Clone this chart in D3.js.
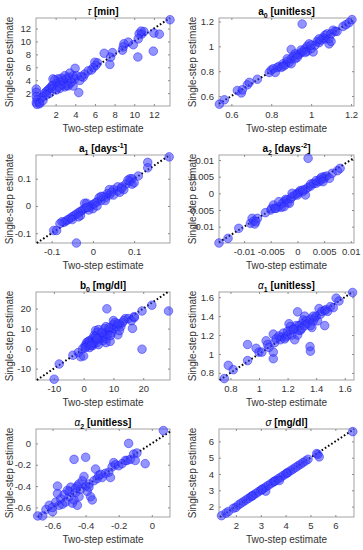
<!DOCTYPE html>
<html><head><meta charset="utf-8">
<script src="https://cdn.jsdelivr.net/npm/d3@7"></script>
<style>body{margin:0;background:#fff}svg{display:block}text{font-family:"Liberation Sans",Arial,sans-serif}</style>
</head><body>
<svg id="c" width="363" height="550"></svg>
<script>
// ---------- data (two-step estimate x, single-step estimate y) ----------
const tauX=[13.64,10.99,10.75,10.5,10.7,10.4,12.0,12.55,11.94,10.37,9.9,9.39,8.95,8.8,8.88,7.79,7.59,7.52,6.94,6.26,6.09,5.99,5.82,5.65,5.31,4.97,4.8,3.98,4.35,3.78,3.44,3.27,3.1,2.93,2.76,2.59,2.41,2.24,2.07,1.9,1.73,1.67,1.56,1.39,1.22,1.05,0.88,0.71,0.54,0.37,0.03,0.03,0.03,0.1,0.03,0.1,0.37,3.1,3.44,3.61,3.95,4.12,2.59,2.24,2.93,3.27,3.78,1.73,2.07,1.39,1.05,0.71,2.41,4.46,4.63];
const tauY=[13.37,11.53,11.14,11.2,11.6,10.4,11.3,11.14,8.5,7.6,9.5,9.9,9.65,8.66,9.16,8.27,7.57,6.44,8.17,6.68,6.29,6.78,5.94,5.59,5.45,4.95,4.46,5.84,2.08,4.7,5.1,4.46,4.2,4.7,3.96,4.3,3.7,4.2,3.47,4.06,4.2,3.2,2.97,2.72,2.48,2.23,1.98,1.49,1.24,0.5,2.62,2.13,1.49,0.99,0.5,0.25,0.35,3.2,3.47,3.7,4.2,4.7,3.22,2.97,2.97,3.12,3.1,2.72,2.48,1.98,1.73,0.84,2.7,3.96,4.6];

const a0X=[0.54,0.565,0.63,0.65,0.655,0.68,0.69,0.73,0.79,0.80,0.81,0.82,0.83,0.84,0.85,0.86,0.87,0.88,0.89,0.90,0.90,0.90,0.91,0.92,0.93,0.94,0.95,0.955,0.96,0.97,0.98,0.98,0.99,1.0,1.01,1.02,1.03,1.04,1.05,1.06,1.07,1.07,1.08,1.09,1.09,1.1,1.1,1.11,1.12,1.13,1.16,1.175,1.19,1.205,0.88,0.92,0.95,1.0,1.04,0.86,0.93,0.97];
const a0Y=[0.535,0.57,0.645,0.625,0.65,0.69,0.71,0.735,0.79,0.81,0.82,0.79,0.83,0.84,0.83,0.86,0.85,0.88,0.87,0.86,0.975,0.90,0.92,0.90,0.93,0.935,0.95,1.18,0.96,0.98,1.0,0.96,1.02,0.98,0.955,1.01,1.04,1.03,1.05,1.07,1.06,1.09,1.1,1.02,1.06,1.04,1.1,1.13,1.12,1.12,1.16,1.175,1.19,1.215,0.9,0.94,0.97,1.01,1.06,0.84,0.91,0.95];

const a1X=[0.185,0.133,0.133,0.11,0.095,0.09,0.095,0.08,0.07,0.075,0.06,0.05,0.045,0.04,0.035,0.03,0.025,0.02,0.015,0.01,0.005,0.0,-0.005,-0.01,-0.015,-0.02,-0.02,-0.025,-0.03,-0.035,-0.04,-0.045,-0.05,-0.055,-0.06,-0.065,-0.07,-0.075,-0.08,-0.095,-0.088,-0.04,0.0,0.01,0.03,0.04,0.05,0.06,0.09,0.085,0.1,0.02,-0.01,-0.03,-0.05,-0.035,-0.015,0.065,0.07];
const a1Y=[0.18,0.16,0.14,0.11,0.1,0.09,0.08,0.08,0.07,0.06,0.055,0.06,0.05,0.04,0.045,0.03,0.035,0.02,0.03,0.015,0.01,0.005,0.0,-0.005,0.01,-0.01,0.01,-0.015,-0.02,-0.025,-0.03,-0.035,-0.04,-0.045,-0.05,-0.055,-0.06,-0.058,-0.065,-0.09,-0.09,-0.136,-0.01,0.0,0.02,0.06,0.04,0.07,0.1,0.095,0.085,0.035,-0.015,-0.035,-0.05,-0.04,-0.005,0.05,0.065];

const a2X=[-0.0147,-0.013,-0.011,-0.0088,-0.0085,-0.0082,-0.008,-0.0075,-0.0078,-0.005,-0.0048,-0.0045,-0.004,-0.0035,-0.003,-0.0028,-0.0025,-0.0022,-0.002,-0.0018,-0.0015,-0.0012,-0.001,-0.0005,0,0.0003,0.0005,0.001,0.0015,0.0015,0.002,0.002,0.0025,0.003,0.0035,0.004,0.0042,0.0045,0.005,0.005,0.0055,0.006,0.0065,0.0075,0.008,-0.0035,-0.0025,0.0,-0.001,0.001,0.0025,0.0035,0.0045,0.0048,-0.0042,-0.006];
const a2Y=[-0.0149,-0.0135,-0.0105,-0.009,-0.0075,-0.0083,-0.0092,-0.0075,-0.0085,-0.005,-0.0045,-0.0035,-0.0045,-0.004,-0.0042,-0.003,-0.0025,-0.0018,-0.002,-0.0028,-0.003,-0.0015,-0.001,-0.0005,0,0.0003,0.0008,0.0005,-0.0005,0.0012,0.0105,0.0018,0.0022,0.003,0.003,0.0035,0.0042,0.004,0.0045,0.005,0.0052,0.0045,0.006,0.0068,0.0075,-0.0025,-0.004,-0.0005,0.0,0.001,0.0028,0.0038,0.0048,0.0035,-0.0045,-0.0058];

const b0X=[-9.9,-8.2,-3.6,-1.8,-1.0,0,-0.3,0.5,1,1,1.5,2,2,2.5,3,3,3.5,3.5,4,4,4.5,4.5,5,5,5.5,6,6,6.5,7,7,7.5,7.5,7.6,7.8,8,8.5,8.9,9,9.5,10,10,10,10.5,11.5,11,12,12.5,13,14,15,16.4,16,17,17,19.6,19.6,22.9,28.5,2,3,4,5,6,7.5,8.5,9,11.5,13.5,12,1.5,0.5,2.5,4.5];
const b0Y=[-15.3,-7.7,-3.3,-2,-4.1,-3.7,0,1.5,1,3,2.5,4,2,3,5,1.5,2.5,6.5,9,4,3,8,5,2,6,5,7,4,10,6,3,8,4.9,19.9,7,9,3.6,10,8,12,14,10,13,6.9,11,12,11,13,15,15,10.1,14,15.5,16,18.8,-0.3,21.7,18.8,0.5,3,6,9.5,8,11,10.5,6.5,12.5,14,9,3.5,0.5,1.5,5];

const al1X=[0.757,0.785,0.82,0.92,0.92,0.98,1.0,1.02,1.05,1.06,1.07,1.1,1.1,1.1,1.11,1.12,1.14,1.15,1.16,1.17,1.18,1.19,1.2,1.21,1.22,1.22,1.23,1.25,1.27,1.25,1.26,1.27,1.28,1.29,1.3,1.31,1.32,1.33,1.34,1.357,1.36,1.36,1.36,1.37,1.38,1.39,1.4,1.41,1.42,1.43,1.44,1.46,1.46,1.47,1.48,1.5,1.52,1.54,1.56,1.655,1.2,1.28,1.32,1.3,1.38,1.24];
const al1Y=[0.74,0.88,0.834,0.93,1.1,1.06,1.02,1.02,1.14,1.1,1.07,0.95,1.02,1.21,1.12,1.16,1.19,1.15,1.18,1.22,1.16,1.18,1.2,1.32,1.25,1.29,1.2,1.15,1.445,1.27,1.3,1.2,1.3,1.25,1.32,1.36,1.4,1.35,1.32,1.078,1.03,1.3,1.37,1.28,1.35,1.38,1.4,1.35,1.48,1.42,1.45,1.3,1.46,1.47,1.45,1.5,1.49,1.59,1.56,1.65,1.24,1.25,1.3,1.27,1.4,1.26];

const al2X=[-0.69,-0.66,-0.64,-0.62,-0.6,-0.6,-0.58,-0.57,-0.57,-0.56,-0.55,-0.54,-0.52,-0.5,-0.5,-0.49,-0.48,-0.47,-0.47,-0.46,-0.45,-0.45,-0.44,-0.43,-0.42,-0.41,-0.4,-0.4,-0.39,-0.38,-0.37,-0.36,-0.35,-0.34,-0.33,-0.32,-0.3,-0.28,-0.26,-0.25,-0.24,-0.23,-0.22,-0.2,-0.18,-0.16,-0.15,-0.14,-0.13,-0.11,-0.1,-0.09,-0.04,0.07,-0.53,-0.51,-0.46,-0.44,-0.38,-0.31];
const al2Y=[-0.68,-0.68,-0.62,-0.58,-0.64,-0.6,-0.55,-0.47,-0.4,-0.58,-0.52,-0.57,-0.55,-0.5,-0.45,-0.41,-0.56,-0.53,-0.15,-0.46,-0.4,-0.58,-0.5,-0.43,-0.35,-0.31,-0.4,-0.13,-0.45,-0.38,-0.5,-0.53,-0.35,-0.24,-0.33,-0.3,-0.32,-0.28,-0.27,-0.32,-0.22,-0.18,-0.2,-0.21,-0.19,-0.16,-0.16,0.0,-0.15,-0.1,-0.16,-0.09,-0.19,0.12,-0.48,-0.44,-0.42,-0.38,-0.41,-0.29];

const sigX=[1.42,1.6,1.7,1.9,2.0,2.1,2.3,2.4,2.5,2.6,2.7,2.8,2.9,3.0,3.1,3.2,3.2,3.3,3.4,3.5,3.6,3.7,3.8,3.9,4.0,4.1,4.2,4.3,4.5,4.6,4.7,4.8,4.9,5.25,5.3,5.35,6.7,2.2,2.65,3.05,3.55,3.75,4.05,4.4];
const sigY=[1.44,1.6,1.7,1.9,1.95,2.1,2.3,2.4,2.5,2.6,2.7,2.8,2.9,3.0,3.1,2.95,3.2,3.3,3.4,3.5,3.6,3.7,3.8,3.9,4.0,4.1,4.2,4.3,4.5,4.6,4.7,4.8,4.9,5.25,5.2,5.05,6.6,2.2,2.65,3.05,3.55,3.6,4.05,4.4];

// ---------- tick labels ----------
const tauTicks=[2,4,6,8,10,12];
const a0Ticks=[0.6,0.8,1,1.2];
const a1Ticks=[-0.1,0,0.1];
const a2Ticks=[-0.01,-0.005,0,0.005,0.01];
const b0Ticks=[-10,0,10,20];
const al1Ticks=[0.8,1,1.2,1.4,1.6];
const al2Ticks=[-0.6,-0.4,-0.2,0];
const sigTicks=[2,3,4,5,6];

// ---------- titles: [text, style] segments; style: g=greek normal, b=bold, sub, sup ----------
const titles=[
 [["τ","g"],[" [min]","b"]],
 [["a","b"],["0","sub"],[" [unitless]","b"]],
 [["a","b"],["1","sub"],[" [days","b"],["-1","sup"],["]","b"]],
 [["a","b"],["2","sub"],[" [days","b"],["-2","sup"],["]","b"]],
 [["b","b"],["0","sub"],[" [mg/dl]","b"]],
 [["α","g"],["1","sub"],[" [unitless]","b"]],
 [["α","g"],["2","sub"],[" [unitless]","b"]],
 [["σ","g"],[" [mg/dl]","b"]]
];

const panels=[
 {x:tauX,y:tauY,xd:[0,13.64],yd:[0,13.64],xt:tauTicks,yt:tauTicks},
 {x:a0X,y:a0Y,xd:[0.538,1.215],yd:[0.52,1.228],xt:a0Ticks,yt:a0Ticks},
 {x:a1X,y:a1Y,xd:[-0.138,0.187],yd:[-0.136,0.187],xt:a1Ticks,yt:a1Ticks},
 {x:a2X,y:a2Y,xd:[-0.0147,0.0106],yd:[-0.0149,0.0115],xt:a2Ticks,yt:a2Ticks},
 {x:b0X,y:b0Y,xd:[-16,29],yd:[-15.7,28.3],xt:b0Ticks,yt:b0Ticks},
 {x:al1X,y:al1Y,xd:[0.72,1.665],yd:[0.725,1.655],xt:al1Ticks,yt:al1Ticks},
 {x:al2X,y:al2Y,xd:[-0.70,0.11],yd:[-0.69,0.135],xt:al2Ticks,yt:al2Ticks},
 {x:sigX,y:sigY,xd:[1.32,6.75],yd:[1.36,6.76],xt:sigTicks,yt:sigTicks}
];

const colL=[36,219], colW=[134,135], rowT=[18,155,292,429], H=88;
const svg=d3.select("#c");
const axisCol="#8c8c8c", txtCol="#333";

panels.forEach((p,i)=>{
  const c=i%2, r=Math.floor(i/2);
  const L=colL[c], T=rowT[r], W=colW[c];
  const g=svg.append("g").attr("transform",`translate(${L},${T})`);
  const xs=d3.scaleLinear().domain(p.xd).range([0,W]);
  const ys=d3.scaleLinear().domain(p.yd).range([H,0]);
  // box
  g.append("rect").attr("width",W).attr("height",H).attr("fill","none").attr("stroke",axisCol).attr("stroke-width",0.8);
  // axes with inward ticks
  const fmt=v=>String(v);
  const ax=g.append("g").attr("transform",`translate(0,${H})`).call(d3.axisBottom(xs).tickValues(p.xt).tickFormat(fmt).tickSizeInner(-2).tickSizeOuter(0).tickPadding(5));
  const axT=g.append("g").call(d3.axisTop(xs).tickValues(p.xt).tickFormat("").tickSizeInner(-2).tickSizeOuter(0));
  const ay=g.append("g").call(d3.axisLeft(ys).tickValues(p.yt).tickFormat(fmt).tickSizeInner(-2).tickSizeOuter(0).tickPadding(5));
  const ayR=g.append("g").attr("transform",`translate(${W},0)`).call(d3.axisRight(ys).tickValues(p.yt).tickFormat("").tickSizeInner(-2).tickSizeOuter(0));
  [ax,axT,ay,ayR].forEach(a=>{a.select(".domain").remove();a.selectAll("line").attr("stroke",axisCol);a.selectAll("text").attr("fill",txtCol).style("font-size","9.5px").style("font-family","Liberation Sans, Arial, sans-serif");});
  // identity line
  const lo=Math.max(p.xd[0],p.yd[0]), hi=Math.min(p.xd[1],p.yd[1]);
  g.append("line").attr("x1",xs(lo)).attr("y1",ys(lo)).attr("x2",xs(hi)).attr("y2",ys(hi))
    .attr("stroke","#000").attr("stroke-width",2).attr("stroke-dasharray","1.6 2.2");
  // points
  g.selectAll("circle").data(d3.range(p.x.length)).join("circle")
    .attr("cx",k=>xs(p.x[k])).attr("cy",k=>ys(p.y[k])).attr("r",4.3)
    .attr("fill","rgb(60,60,255)").attr("fill-opacity",0.55)
    .attr("stroke","rgb(30,30,255)").attr("stroke-opacity",0.6).attr("stroke-width",0.8);
  // labels
  g.append("text").attr("x",W/2).attr("y",H+26).attr("text-anchor","middle").attr("fill",txtCol).style("font-size","10px").text("Two-step estimate");
  g.append("text").attr("transform",`translate(${-23},${H/2}) rotate(-90)`).attr("text-anchor","middle").attr("fill",txtCol).style("font-size","10px").text("Single-step estimate");
  // title
  const t=g.append("text").attr("x",W/2).attr("y",-3).attr("text-anchor","middle").attr("fill","#000").style("font-size","10px");
  titles[i].forEach(([s,st])=>{
    const ts=t.append("tspan").text(s);
    if(st==="b") ts.attr("font-weight","bold");
    if(st==="g") ts.attr("font-style","italic");
    if(st==="sub") ts.attr("font-weight","bold").style("font-size","7px").attr("dy",2.5);
    if(st==="sup") ts.attr("font-weight","bold").style("font-size","7px").attr("dy",-4);
    if(st==="b"){ /* reset baseline after sub/sup */ }
  });
  // fix baselines: after sub/sup return to baseline
  let shift=0;
  t.selectAll("tspan").each(function(){
    const el=d3.select(this); const dy=+el.attr("dy")||0;
    if(dy===0 && shift!==0){ el.attr("dy",-shift); shift=0; }
    else shift+=dy;
  });
});
</script>
</body></html>
